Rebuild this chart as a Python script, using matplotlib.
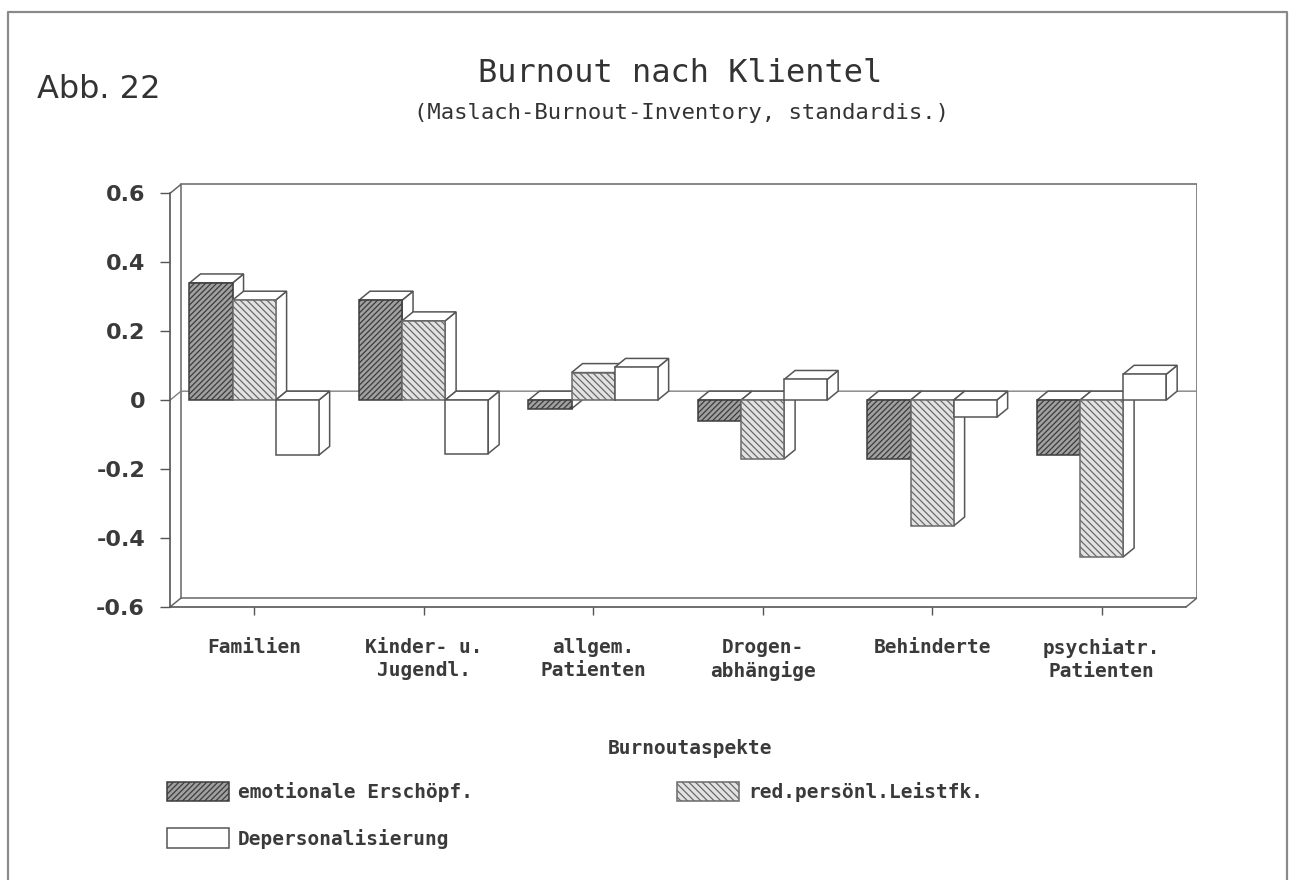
import numpy as np
import matplotlib.pyplot as plt
from matplotlib.patches import Polygon, Patch
from matplotlib.lines import Line2D

# data
categories = ['Familien', 'Kinder- u.\nJugendl.', 'allgem.\nPatienten',
              'Drogen-\nabhängige', 'Behinderte', 'psychiatr.\nPatienten']
series = ['emotionale Erschöpf.', 'red.persönl.Leistfk.', 'Depersonalisierung']
emotional = [0.34, 0.29, -0.025, -0.06, -0.17, -0.16]
reduced = [0.29, 0.23, 0.08, -0.17, -0.365, -0.455]
depers = [-0.16, -0.155, 0.095, 0.06, -0.05, 0.075]
yticks = [-0.6, -0.4, -0.2, 0, 0.2, 0.4, 0.6]
ytick_labels = ['-0.6', '-0.4', '-0.2', '0', '0.2', '0.4', '0.6']

plt.rcParams['hatch.linewidth'] = 0.9

W, H = 1290, 880
def fx(px):
    return px / W
def fy(py):
    return 1 - py / H

fig = plt.figure(figsize=(12.9, 8.8), dpi=100)
fig.patch.set_facecolor('white')

# outer frame of the scanned page
fig.add_artist(Line2D([fx(8), fx(8), fx(1287), fx(1287)],
                      [fy(890), fy(12), fy(12), fy(890)],
                      transform=fig.transFigure, color='#8a8a8a', lw=1.6))

ax = fig.add_axes([fx(170), fy(607), (1197 - 170) / W, (607 - 183) / H])
x_left, x_right = -0.496, 5.563
y_bot, y_top = -0.6, 0.63
ax.set_xlim(x_left, x_right)
ax.set_ylim(y_bot, y_top)
ax.patch.set_visible(False)

dx = 11 / 169.5   # depth offset, x data units
dy = 9 / 344.7    # depth offset, y data units
line_c = '#555555'

for s in ['top', 'right']:
    ax.spines[s].set_visible(False)
ax.spines['left'].set_bounds(-0.6, 0.6)
ax.spines['bottom'].set_bounds(x_left, x_right - dx)
for s in ['left', 'bottom']:
    ax.spines[s].set_color(line_c)
    ax.spines[s].set_linewidth(1.2)

ax.set_yticks(yticks, ytick_labels)
ax.set_xticks(range(len(categories)), categories)
ax.tick_params(axis='y', length=7, width=1, pad=11, colors=line_c,
               labelcolor='#3a3a3a', labelsize=16)
ax.tick_params(axis='x', length=6, width=1, pad=16, colors=line_c,
               labelcolor='#3a3a3a', labelsize=14)
for lbl in ax.get_yticklabels():
    lbl.set_fontfamily('DejaVu Sans')
    lbl.set_fontweight('bold')
for lbl in ax.get_xticklabels():
    lbl.set_fontfamily('DejaVu Sans Mono')
    lbl.set_fontweight('bold')
    lbl.set_linespacing(1.3)

# back wall / floor of the pseudo 3D frame
wall = dict(color='#666666', lw=1.1, zorder=0.5)
xb = x_left + dx
ax.plot([x_left, xb, xb], [0.6, 0.6 + dy, -0.6 + dy], **wall)
ax.plot([xb, x_right, x_right], [0.6 + dy, 0.6 + dy, -0.6 + dy], **wall)
ax.plot([x_left, xb, x_right], [-0.6, -0.6 + dy, -0.6 + dy], **wall)
ax.plot([x_right - dx, x_right], [-0.6, -0.6 + dy], **wall)
ax.plot([x_left, xb, x_right], [0, dy, dy], color='#808080', lw=1.0, zorder=0.6)

styles = [
    dict(color='#a0a0a0', hatch='//////', edgecolor='#3c3c3c'),
    dict(color='#e2e2e2', hatch='\\\\\\\\\\', edgecolor='#6a6a6a'),
    dict(color='white', hatch='', edgecolor=line_c),
]

data = [emotional, reduced, depers]
w = 0.254
z = 2
for i in range(len(categories)):
    for j, vals in enumerate(data):
        v = vals[i]
        x0 = i - 1.5 * w + j * w
        top, bot = max(v, 0), min(v, 0)
        side = Polygon([(x0 + w, bot), (x0 + w + dx, bot + dy),
                        (x0 + w + dx, top + dy), (x0 + w, top)],
                       facecolor='white', edgecolor=line_c, lw=1.1, zorder=z)
        cap = Polygon([(x0, top), (x0 + dx, top + dy),
                       (x0 + w + dx, top + dy), (x0 + w, top)],
                      facecolor='white', edgecolor=line_c, lw=1.1, zorder=z)
        ax.add_patch(side)
        ax.add_patch(cap)
        ax.bar(x0, v, w, align='edge', lw=1.1, zorder=z + 1, **styles[j])
        z += 2

# titles
fig.text(fx(37), fy(90), 'Abb. 22', ha='left', va='center',
         family='DejaVu Sans', size=23, color='#333333')
fig.text(fx(680), fy(74), 'Burnout nach Klientel', ha='center', va='center',
         family='DejaVu Sans Mono', size=23, color='#333333')
fig.text(fx(681), fy(113), '(Maslach-Burnout-Inventory, standardis.)',
         ha='center', va='center', family='DejaVu Sans Mono', size=16,
         color='#333333')

# legend
fig.text(fx(690), fy(748), 'Burnoutaspekte', ha='center', va='center',
         family='DejaVu Sans Mono', weight='bold', size=14, color='#3a3a3a')
handles = [Patch(facecolor=st['color'], hatch=st['hatch'],
                 edgecolor=st['edgecolor'], lw=1.1) for st in styles]
order = [0, 2, 1]
fig.legend([handles[k] for k in order], [series[k] for k in order],
           ncol=2, loc='upper left', bbox_to_anchor=(fx(167), fy(782)),
           frameon=False, borderpad=0, borderaxespad=0,
           prop=dict(family='DejaVu Sans Mono', size=14, weight='bold'),
           labelcolor='#3a3a3a', handlelength=3.2, handleheight=1.15,
           handletextpad=0.45, columnspacing=10.5, labelspacing=1.35)

plt.savefig('out.png', dpi=100)
